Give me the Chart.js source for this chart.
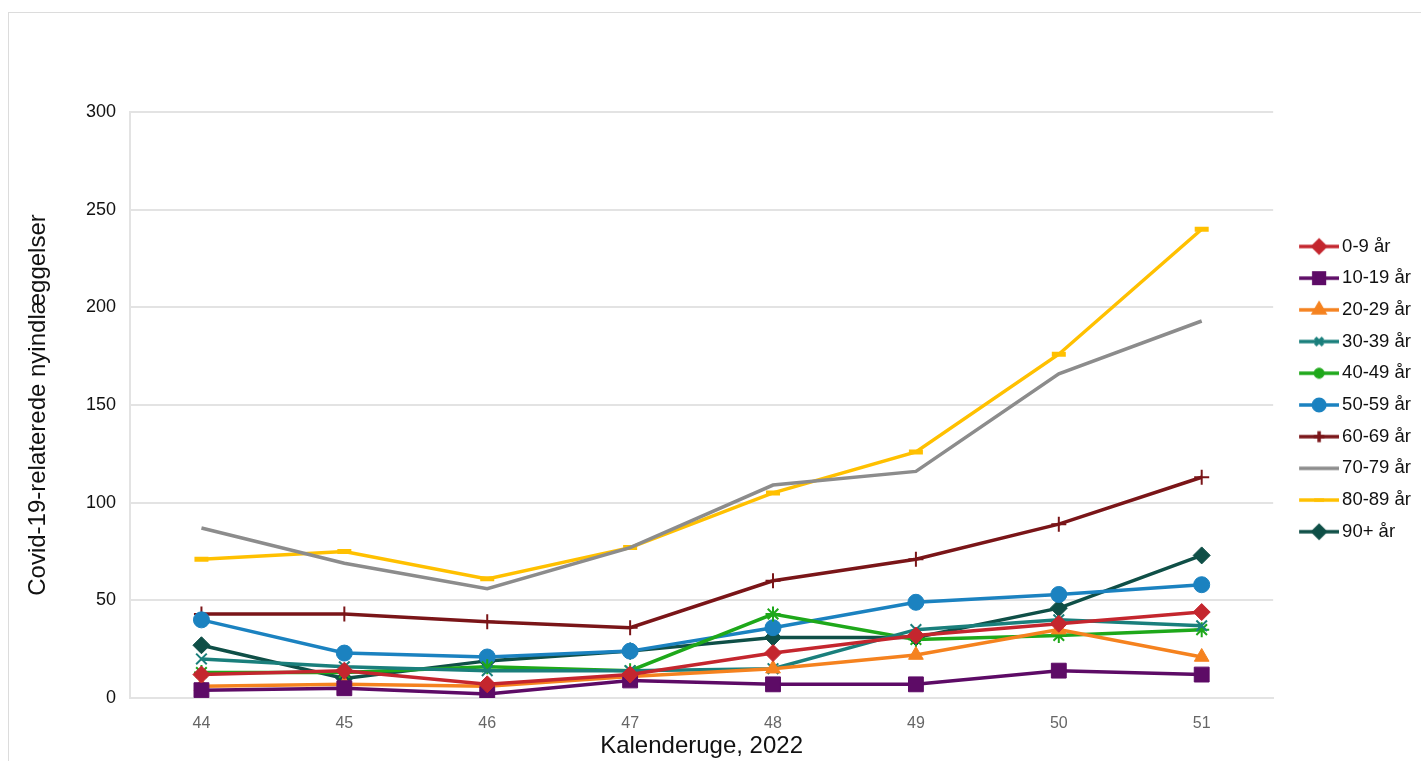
<!DOCTYPE html>
<html>
<head>
<meta charset="utf-8">
<script src="https://cdn.jsdelivr.net/npm/chart.js@4/dist/chart.umd.min.js"></script>
<style>
  html, body { margin: 0; padding: 0; background: #fff; }
  #wrap { position: relative; width: 1421px; height: 761px; overflow: hidden; }
  #frame { position: absolute; left: 8px; top: 12px; width: 1500px; height: 800px;
           border: 1.5px solid #dcdcdc; box-sizing: border-box; }
  #c { position: absolute; left: 0; top: 0; }
</style>
</head>
<body>
<div id="wrap">
  <div id="frame"></div>
  <canvas id="c" width="1421" height="761"></canvas>
</div>
<script>
// uger og tal
const weeks = ['44', '45', '46', '47', '48', '49', '50', '51'];
const yTicks = [0, 50, 100, 150, 200, 250, 300];

const age0_9   = [12, 14, 7, 12, 23, 32, 38, 44];
const age10_19 = [4, 5, 2, 9, 7, 7, 14, 12];
const age20_29 = [6, 7, 6, 11, 15, 22, 35, 21];
const age30_39 = [20, 16, 14, 14, 15, 35, 40, 37];
const age40_49 = [13, 13, 16, 14, 43, 30, 32, 35];
const age50_59 = [40, 23, 21, 24, 36, 49, 53, 58];
const age60_69 = [43, 43, 39, 36, 60, 71, 89, 113];
const age70_79 = [87, 69, 56, 77, 109, 116, 166, 193];
const age80_89 = [71, 75, 61, 77, 105, 126, 176, 240];
const age90    = [27, 10, 19, 24, 31, 31, 46, 73];

const FONT = 'Liberation Sans, Arial, sans-serif';

function series(label, data, color, style, radius, bw) {
  return {
    label, data,
    borderColor: color,
    backgroundColor: color,
    borderWidth: 3.5,
    pointStyle: style,
    pointRadius: radius,
    pointHoverRadius: radius,
    pointBorderWidth: bw,
    tension: 0
  };
}

const datasets = [
  series('0-9 år',   age0_9,   '#c4262e', 'rectRot', 8.5, 1),
  series('10-19 år', age10_19, '#5d0b66', 'rect', 10.5, 1),
  series('20-29 år', age20_29, '#f5821f', 'triangle', 8.5, 1),
  series('30-39 år', age30_39, '#1a7f7c', 'crossRot', 7.5, 2),
  series('40-49 år', age40_49, '#1ea81a', 'star', 7.5, 2),
  series('50-59 år', age50_59, '#1b82c0', 'circle', 8, 1),
  series('60-69 år', age60_69, '#7a1518', 'cross', 7.5, 2),
  series('70-79 år', age70_79, '#8c8c8c', false, 0, 0),
  series('80-89 år', age80_89, '#ffc000', 'line', 7, 5),
  series('90+ år',   age90,    '#0f4f47', 'rectRot', 8.5, 1)
];

// legend-symbol: linje med markør
function legendIcon(ds) {
  const cv = document.createElement('canvas');
  cv.width = 59; cv.height = 22;
  const g = cv.getContext('2d');
  g.strokeStyle = ds.borderColor;
  g.lineWidth = 3.5;
  g.beginPath(); g.moveTo(19, 11); g.lineTo(59, 11); g.stroke();
  if (ds.pointStyle) {
    g.fillStyle = ds.backgroundColor;
    g.strokeStyle = ds.borderColor;
    Chart.helpers.drawPoint(g, {
      pointStyle: ds.pointStyle,
      radius: ds.pointRadius * 0.72,
      rotation: 0,
      borderWidth: ds.pointBorderWidth
    }, 39, 11);
  }
  return cv;
}

new Chart(document.getElementById('c'), {
  type: 'line',
  data: { labels: weeks, datasets },
  options: {
    responsive: false,
    animation: false,
    layout: { padding: { left: 24, top: 112, right: 0, bottom: 0 } },
    plugins: {
      legend: {
        position: 'right',
        align: 'start',
        title: { display: true, text: ' ', font: { size: 10 }, padding: { top: 100, bottom: 0 } },
        labels: {
          usePointStyle: true,
          pointStyleWidth: 46.5,
          boxHeight: 18.5,
          padding: 13.2,
          color: '#111',
          font: { family: FONT, size: 18.5 },
          generateLabels: chart => chart.data.datasets.map((ds, i) => ({
            text: ds.label,
            pointStyle: legendIcon(ds),
            fillStyle: ds.backgroundColor,
            strokeStyle: ds.borderColor,
            lineWidth: 0,
            fontColor: '#111',
            hidden: false,
            datasetIndex: i
          }))
        }
      },
      tooltip: { enabled: false }
    },
    scales: {
      x: {
        offset: true,
        grid: { display: false, drawTicks: false },
        border: { display: true, color: '#e3e3e3', width: 2 },
        ticks: { color: '#666', font: { family: FONT, size: 16 }, padding: 16 },
        title: {
          display: true, text: 'Kalenderuge, 2022', color: '#111',
          font: { family: FONT, size: 24 }, padding: { top: 0, bottom: 0 }
        },
        afterFit: s => { s.height = 63; }
      },
      y: {
        min: 0, max: 300,
        afterBuildTicks: s => { s.ticks = yTicks.map(v => ({ value: v })); },
        grid: { color: '#e3e3e3', lineWidth: 2, drawTicks: false },
        border: { display: true, color: '#e3e3e3', width: 2 },
        ticks: { color: '#111', font: { family: FONT, size: 18 }, padding: 14 },
        title: {
          display: true, text: 'Covid-19-relaterede nyindlæggelser', color: '#111',
          font: { family: FONT, size: 24 }, padding: { top: 0, bottom: 0 }
        },
        afterFit: s => { s.width = 106; }
      }
    }
  }
});
</script>
</body>
</html>
